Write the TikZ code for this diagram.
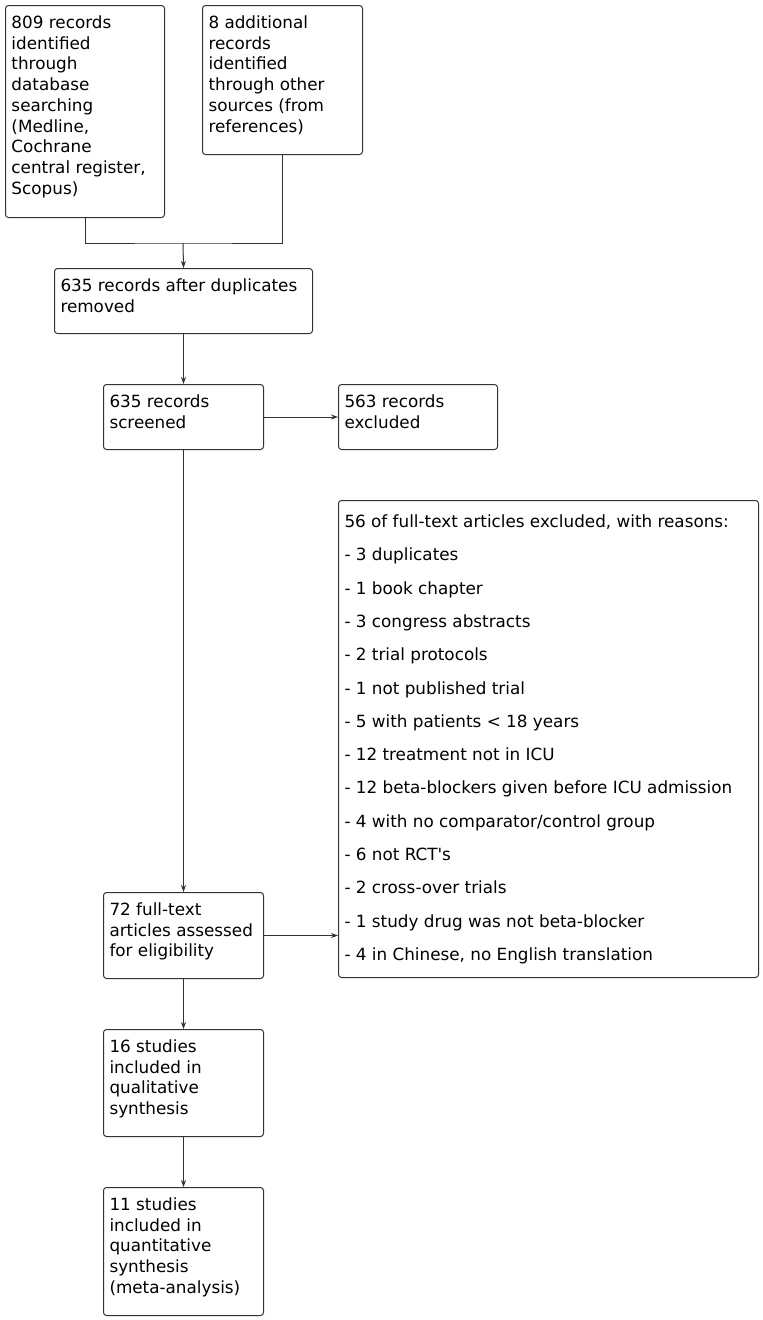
\documentclass[tikz,border=0pt]{standalone}
\usepackage{fontspec}
\setmainfont{DejaVu Sans}
\usepackage{tikz}
\usetikzlibrary{arrows.meta}

\newcommand{\boxtext}[4][18pt]{\parbox[t][#3][t]{#2}{\raggedright\rule{0pt}{#1}#4}}

\tikzset{
    flowbox/.style={draw=black!80, line width=1pt, rounded corners=3pt, anchor=north west,
        inner xsep=6pt, inner ysep=5pt, font=\fontsize{16.8}{20.7}\selectfont},
    reasonbox/.style={flowbox, font=\fontsize{16.8}{33.3}\selectfont},
    flowline/.style={draw=black!80, line width=1pt}
}

\begin{document}
\begin{tikzpicture}[x=1pt, y=-1pt, >={Stealth[length=7pt,width=5pt]}]

    \useasboundingbox (0,0) rectangle (763,1320);

    \node[flowbox] (search) at (5,5) {\boxtext{147pt}{202pt}{809 records\\identified\\through\\database\\searching\\(Medline,\\Cochrane\\central register,\\Scopus)}};
    \node[flowbox] (other) at (202,5) {\boxtext{148pt}{139pt}{8 additional\\records\\identified\\through other\\sources (from\\references)}};
    \node[flowbox] (dedup) at (54,268) {\boxtext{246pt}{55pt}{635 records after duplicates\\removed}};
    \node[flowbox] (screened) at (103,384) {\boxtext{148pt}{55pt}{635 records\\screened}};
    \node[flowbox] (excluded) at (338,384) {\boxtext{147pt}{55pt}{563 records\\excluded}};
    \node[reasonbox] (reasons) at (338,500) {\boxtext[22pt]{408pt}{467pt}{56 of full-text articles excluded, with reasons:\\
        - 3 duplicates\\
        - 1 book chapter\\
        - 3 congress abstracts\\
        - 2 trial protocols\\
        - 1 not published trial\\
        - 5 with patients < 18 years\\
        - 12 treatment not in ICU\\
        - 12 beta-blockers given before ICU admission\\
        - 4 with no comparator/control group\\
        - 6 not RCT\textquotesingle s\\
        - 2 cross-over trials\\
        - 1 study drug was not beta-blocker\\
        - 4 in Chinese, no English translation}};
    \node[flowbox] (fulltext) at (103,892) {\boxtext{148pt}{76pt}{72 full-text\\articles assessed\\for eligibility}};
    \node[flowbox] (qualit) at (103,1029) {\boxtext{148pt}{97pt}{16 studies\\included in\\qualitative\\synthesis}};
    \node[flowbox] (quantit) at (103,1187) {\boxtext{148pt}{118pt}{11 studies\\included in\\quantitative\\synthesis\\(meta-analysis)}};

    \coordinate (join) at (183,243);
    \draw[flowline] (search.south) |- (join) -| (other.south);
    \draw[flowline, ->] (join) -- (dedup.north);
    \draw[flowline, ->] (dedup.south) -- (screened.north);
    \draw[flowline, ->] (screened.east) -- (excluded.west);
    \draw[flowline, ->] (screened.south) -- (fulltext.north);
    \draw[flowline, ->] (fulltext.east) -- (fulltext.east -| reasons.west);
    \draw[flowline, ->] (fulltext.south) -- (qualit.north);
    \draw[flowline, ->] (qualit.south) -- (quantit.north);

\end{tikzpicture}
\end{document}
